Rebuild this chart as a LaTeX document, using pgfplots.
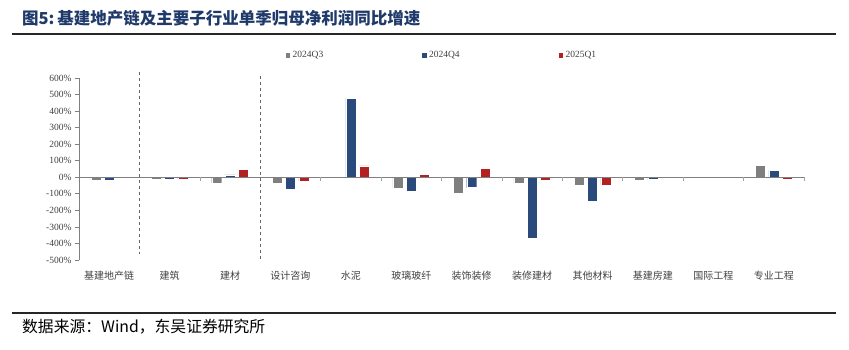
\documentclass[border=0pt]{standalone}
\usepackage{pgfplots}
\pgfplotsset{compat=1.18}
\usepackage{fontspec}
\setmainfont{Liberation Serif}
\newfontfamily\cjk{Noto Sans CJK SC}
\definecolor{cgray}{HTML}{7F7F7F}
\definecolor{cnavy}{HTML}{2A4A7C}
\definecolor{cred}{HTML}{B22222}
\definecolor{ctitle}{HTML}{1F3A6A}
\definecolor{ctxt}{HTML}{404040}
\begin{document}
\begin{tikzpicture}
\path[use as bounding box] (0,0) rectangle (849pt,349pt);
% title and rules
\node[anchor=west, text=ctitle, font=\cjk\bfseries\fontsize{16.5}{18}\selectfont, inner sep=0pt] at (22pt,331pt) {图5:\,基建地产链及主要子行业单季归母净利润同比增速};
\draw[line width=2pt, black!85] (12pt,315pt) -- (836pt,315pt);
\draw[line width=1.6pt, black!85] (12pt,36pt) -- (836pt,36pt);
\node[anchor=west, font=\cjk\fontsize{15.8}{17}\selectfont, inner sep=0pt] at (22pt,22pt) {数据来源：Wind，东吴证券研究所};
\begin{axis}[
  at={(79pt,89pt)}, anchor=south west,
  scale only axis, width=725pt, height=182pt,
  xmin=-0.5, xmax=11.5, ymin=-500, ymax=600,
  clip=false,
  ybar=3.3pt, bar width=10pt,
  axis y line*=left, axis x line*=bottom,
  x axis line style={draw=none},
  y axis line style={cgray, line width=0.8pt},
  xtick={0,...,11}, xtick style={draw=none},
  xticklabels={基建地产链,建筑,建材,设计咨询,水泥,玻璃玻纤,装饰装修,装修建材,其他材料,基建房建,国际工程,专业工程},
  xticklabel style={font=\cjk\fontsize{10}{12}\selectfont, text=ctxt, yshift=-4pt},
  ytick={-500,-400,...,600},
  yticklabel={\pgfmathprintnumber{\tick}\%},
  yticklabel style={font=\fontsize{9.5}{11}\selectfont, text=ctxt},
  /pgf/number format/assume math mode=true,
  y tick style={cgray, line width=0.8pt}, tick align=outside, major tick length=4pt,
  legend style={at={(0.5,1.126)}, anchor=center, draw=none, fill=none, legend columns=3,
    font=\fontsize{9.5}{11}\selectfont, text=ctxt,
    /tikz/every even column/.append style={column sep=96pt},
    /tikz/every odd column/.append style={column sep=0pt}},
  legend image code/.code={\fill[#1] (0pt,-2.7pt) rectangle (5.4pt,2.7pt);},
]
\addplot[fill=cgray, draw=white, line width=0.4pt] coordinates {(0,-16) (1,-10) (2,-36) (3,-38) (4,-5) (5,-65) (6,-95) (7,-37) (8,-48) (9,-18) (10,7) (11,72)};
\addplot[fill=cnavy, draw=white, line width=0.4pt] coordinates {(0,-15) (1,-13) (2,15) (3,-71) (4,478) (5,-85) (6,-63) (7,-366) (8,-145) (9,-14) (10,0) (11,42)};
\addplot[fill=cred, draw=white, line width=0.4pt] coordinates {(0,-8) (1,-10) (2,50) (3,-24) (4,69) (5,17) (6,55) (7,-20) (8,-46) (9,-8) (10,1) (11,-14)};
\legend{2024Q3,2024Q4,2025Q1}
\draw[cgray, line width=0.8pt] (axis cs:-0.5,0) -- (axis cs:11.5,0);
\pgfplotsinvokeforeach{1.5,3.5,4.5,5.5,6.5,7.5,8.5,9.5,10.5,11.5}{\draw[cgray!70, line width=0.6pt] (axis cs:#1,0) -- ++(0pt,-4pt);}
\draw[dashed, black!60, line width=0.6pt] (axis cs:0.5,636) -- (axis cs:0.5,-464);
\draw[dashed, black!60, line width=0.6pt] (axis cs:2.5,612) -- (axis cs:2.5,-494);
\end{axis}
\end{tikzpicture}
\end{document}
